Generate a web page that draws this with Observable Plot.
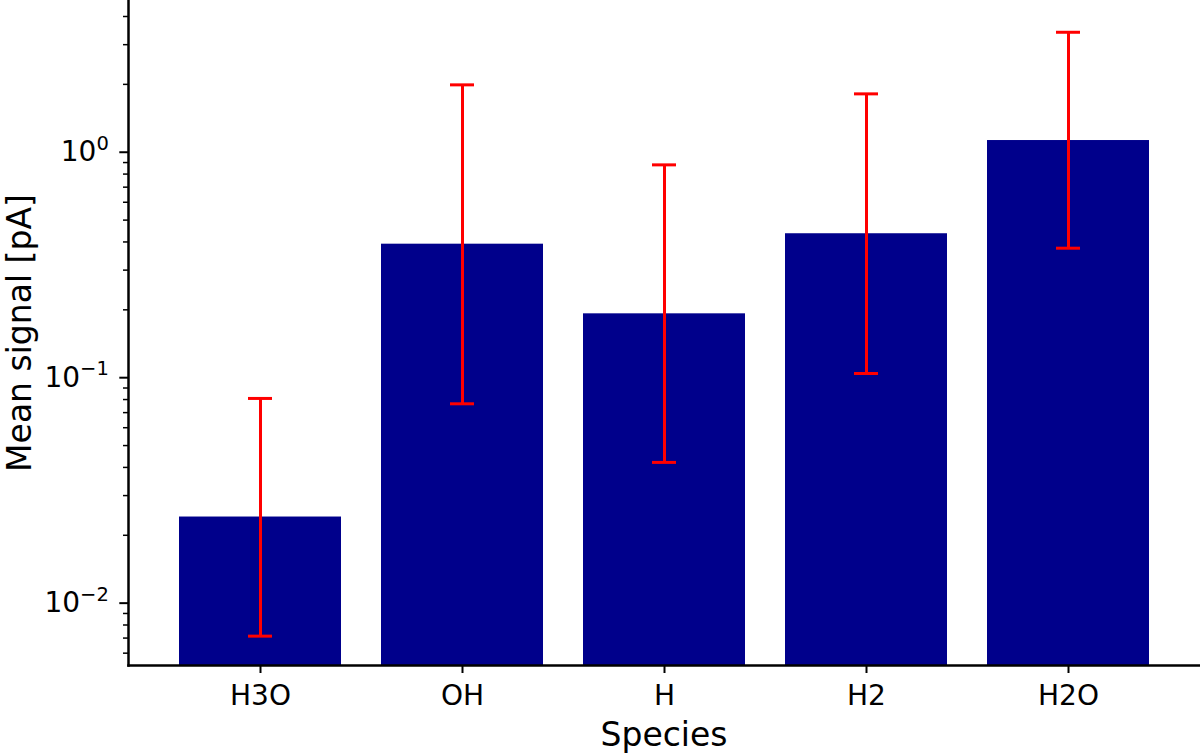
<!DOCTYPE html>
<html><head><meta charset="utf-8">
<script src="https://cdn.jsdelivr.net/npm/d3@7"></script>
<script src="https://cdn.jsdelivr.net/npm/@observablehq/plot@0.6"></script>
<style>html,body{margin:0;padding:0;background:#fff} svg{display:block}</style>
</head><body><div id="chart"></div>
<script>
const species = ["H3O", "OH", "H", "H2", "H2O"];
const meanSignal = [0.0241, 0.391, 0.192, 0.435, 1.127];
const errLow = [0.00714, 0.0766, 0.0421, 0.1044, 0.3753];
const errHigh = [0.0809, 1.990, 0.879, 1.815, 3.405];
const majorTicks = [0.01, 0.1, 1];
const majorExponents = ["−2", "−1", "0"];
const minorTicks = [0.006, 0.007, 0.008, 0.009, 0.02, 0.03, 0.04, 0.05, 0.06, 0.07, 0.08, 0.09,
  0.2, 0.3, 0.4, 0.5, 0.6, 0.7, 0.8, 0.9, 2, 3, 4];
const yDomain = [0.00529, 4.71];

const data = species.map((s, i) => ({species: s, mean: meanSignal[i], lo: errLow[i], hi: errHigh[i]}));

const chart = Plot.plot({
  width: 1200, height: 754,
  marginLeft: 128, marginRight: 1, marginTop: 0, marginBottom: 89,
  style: {fontFamily: "DejaVu Sans", background: "#fff", color: "#000"},
  x: {domain: species, paddingInner: 0.2, paddingOuter: 0.24, label: null},
  y: {type: "log", domain: yDomain, label: null},
  marks: [
    Plot.barY(data, {x: "species", y1: () => yDomain[0], y2: "mean", fill: "#00008b"}),
    Plot.ruleX(data, {x: "species", y1: "lo", y2: "hi", stroke: "red", strokeWidth: 3}),
    Plot.tickY(data, {x: "species", y: "lo", stroke: "red", strokeWidth: 3, insetLeft: 69, insetRight: 69}),
    Plot.tickY(data, {x: "species", y: "hi", stroke: "red", strokeWidth: 3, insetLeft: 69, insetRight: 69}),
    Plot.axisY(minorTicks, {tickSize: 5, tickFormat: () => "", strokeWidth: 1.5, label: null}),
    Plot.axisY(majorTicks, {tickSize: 8.7, tickPadding: 11, strokeWidth: 2, fontSize: 28, label: null,
      tickFormat: d => "10^" + majorExponents[majorTicks.indexOf(d)]}),
    Plot.axisX({tickSize: 8, tickPadding: 12, strokeWidth: 2, fontSize: 28, label: null}),
    Plot.frame({anchor: "left", strokeWidth: 2.5}),
    Plot.frame({anchor: "bottom", strokeWidth: 2.5}),
    Plot.text(["Species"], {text: d => d, frameAnchor: "bottom", dy: 57, lineAnchor: "top", fontSize: 33}),
    Plot.text(["Mean signal [pA]"], {text: d => d, frameAnchor: "left", dx: -98, rotate: -90,
      lineAnchor: "bottom", textAnchor: "middle", fontSize: 33})
  ]
});

// render "10^e" labels with a real superscript
d3.select(chart).selectAll("text").each(function() {
  const t = d3.select(this);
  const s = t.text();
  const m = /^10\^(.+)$/.exec(s);
  if (!m) return;
  t.text("10");
  t.append("tspan").attr("dy", -11.6).attr("font-size", 19.5).text(m[1]);
});

document.getElementById("chart").appendChild(chart);
</script>
</body></html>
